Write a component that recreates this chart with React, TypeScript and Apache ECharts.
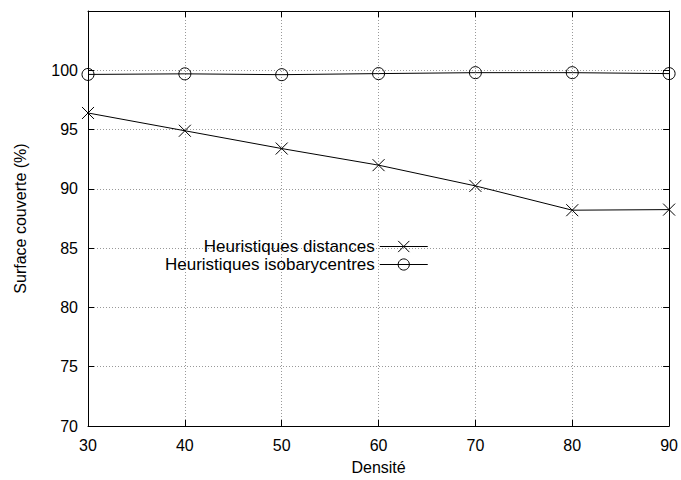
import React, { useEffect, useRef } from "react";
import * as echarts from "echarts";

const densites = [30, 40, 50, 60, 70, 80, 90];
const heuristiquesDistances = [96.4, 94.9, 93.4, 92.0, 90.25, 88.2, 88.25];
const heuristiquesIsobarycentres = [99.65, 99.7, 99.63, 99.72, 99.8, 99.8, 99.72];
const seriesNames = ["Heuristiques distances", "Heuristiques isobarycentres"];
const xAxisTitle = "Densité";
const yAxisTitle = "Surface couverte (%)";

const FONT = "'Liberation Sans', Arial, Helvetica, sans-serif";
const CROSS = "path://M0 0L10 10M10 0L0 10";

export default function App() {
  const ref = useRef<HTMLDivElement>(null);
  useEffect(() => {
    if (!ref.current) return;
    const chart = echarts.init(ref.current, undefined, { renderer: "svg" });
    const tickCommon = { show: true, inside: true, length: 6, lineStyle: { color: "#000", width: 1 } };
    const axisLineCommon = { show: true, onZero: false, lineStyle: { color: "#000", width: 1 } };
    const gridLine = { show: true, lineStyle: { color: "#999", type: [1, 2] as any, width: 1 } };
    chart.setOption({
      animation: false,
      backgroundColor: "#fff",
      textStyle: { fontFamily: FONT },
      grid: { left: 88, right: 11, top: 11, bottom: 53, show: false },
      legend: {
        show: true,
        orient: "vertical",
        align: "right",
        left: 165,
        top: 238,
        padding: 0,
        itemWidth: 48,
        itemHeight: 14,
        itemGap: 1,
        selectedMode: false,
        itemStyle: { borderWidth: 1 },
        lineStyle: { width: 1 },
        textStyle: { fontFamily: FONT, fontSize: 17, color: "#000", lineHeight: 17 },
        data: seriesNames,
      },
      xAxis: [
        {
          type: "value",
          min: 30,
          max: 90,
          interval: 10,
          position: "bottom",
          name: xAxisTitle,
          nameLocation: "middle",
          nameGap: 33,
          nameTextStyle: { fontFamily: FONT, fontSize: 16, color: "#000" },
          axisLine: axisLineCommon,
          axisTick: tickCommon,
          axisLabel: { fontFamily: FONT, fontSize: 16, color: "#000", margin: 11 },
          splitLine: gridLine,
        },
        {
          type: "value",
          min: 30,
          max: 90,
          interval: 10,
          position: "top",
          axisLine: axisLineCommon,
          axisTick: tickCommon,
          axisLabel: { show: false },
          splitLine: { show: false },
        },
      ],
      yAxis: [
        {
          type: "value",
          min: 70,
          max: 105,
          interval: 5,
          position: "left",
          name: yAxisTitle,
          nameLocation: "middle",
          nameGap: 60,
          nameTextStyle: { fontFamily: FONT, fontSize: 16, color: "#000" },
          axisLine: axisLineCommon,
          axisTick: tickCommon,
          axisLabel: {
            fontFamily: FONT,
            fontSize: 16,
            color: "#000",
            margin: 10,
            formatter: (v: number) => (v > 100 ? "" : String(v)),
          },
          splitLine: gridLine,
        },
        {
          type: "value",
          min: 70,
          max: 105,
          interval: 5,
          position: "right",
          axisLine: axisLineCommon,
          axisTick: tickCommon,
          axisLabel: { show: false },
          splitLine: { show: false },
        },
      ],
      series: [
        {
          name: seriesNames[0],
          type: "line",
          xAxisIndex: 0,
          yAxisIndex: 0,
          data: densites.map((d, i) => [d, heuristiquesDistances[i]]),
          symbol: CROSS,
          symbolSize: 12,
          clip: false,
          lineStyle: { color: "#000", width: 1 },
          itemStyle: { color: "#000", borderColor: "#000", borderWidth: 1 },
          emphasis: { disabled: true },
        },
        {
          name: seriesNames[1],
          type: "line",
          xAxisIndex: 0,
          yAxisIndex: 0,
          data: densites.map((d, i) => [d, heuristiquesIsobarycentres[i]]),
          symbol: "circle",
          symbolSize: 12,
          clip: false,
          lineStyle: { color: "#000", width: 1 },
          itemStyle: { color: "none", borderColor: "#000", borderWidth: 1 },
          emphasis: { disabled: true },
        },
      ],
    });
    return () => chart.dispose();
  }, []);
  return <div ref={ref} style={{ width: 681, height: 480, position: "absolute", left: 0, top: 0 }} />;
}
